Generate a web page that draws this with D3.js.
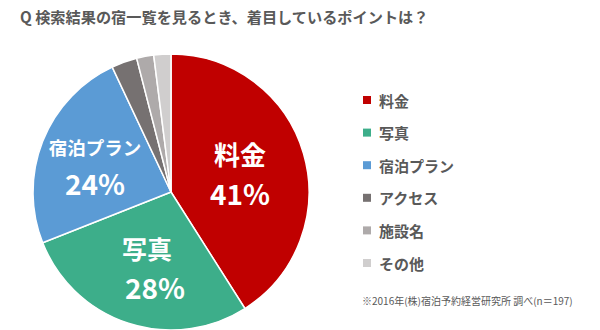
<!DOCTYPE html>
<html><head><meta charset="utf-8">
<script src="https://cdn.jsdelivr.net/npm/d3@7"></script>
<style>
html,body{margin:0;padding:0;background:#fff;}
svg{display:block;font-family:"Noto Sans CJK JP","Noto Sans",sans-serif;}
</style></head>
<body>
<svg id="chart" width="600" height="330"></svg>
<script>
const categories = ["料金","写真","宿泊プラン","アクセス","施設名","その他"];
const values = [41, 28, 24, 3, 2, 2];
const colors = ["#C00000","#3DAE8A","#5B9BD5","#767171","#AEAAAA","#D0CECE"];
const title = "Q 検索結果の宿一覧を見るとき、着目しているポイントは？";
const note = "※2016年(株)宿泊予約経営研究所 調べ(n＝197)";

const svg = d3.select("#chart");
const data = categories.map((c,i)=>({name:c, value:values[i], color:colors[i]}));

svg.append("text").attr("x",20).attr("y",23)
  .attr("font-size",15.2).attr("font-weight","bold").attr("fill","#595959")
  .text(title);

const cx = 171, cy = 192, r = 138;
const pie = d3.pie().value(d=>d.value).sort(null);
const arc = d3.arc().innerRadius(0).outerRadius(r);
const arcs = pie(data);
const g = svg.append("g").attr("transform",`translate(${cx},${cy})`);
g.selectAll("path").data(arcs).join("path")
  .attr("d",arc).attr("fill",d=>d.data.color)
  .attr("stroke","#fff").attr("stroke-width",1.5);

// in-slice labels
const labelPos = [
  {name:[240,153], pct:[240,193], ns:26},
  {name:[147,248], pct:[155,287], ns:25},
  {name:[95,147], pct:[95,183], ns:18.5}
];
labelPos.forEach((p,i)=>{
  svg.append("text").attr("x",p.name[0]).attr("y",p.name[1])
    .attr("text-anchor","middle").attr("dominant-baseline","central")
    .attr("font-size",p.ns).attr("font-weight","bold").attr("fill","#fff")
    .text(data[i].name);
  svg.append("text").attr("x",p.pct[0]).attr("y",p.pct[1])
    .attr("text-anchor","middle").attr("dominant-baseline","central")
    .attr("font-size",28).attr("font-weight","bold").attr("fill","#fff")
    .text(data[i].value + "%");
});

// legend
const ly = d3.scalePoint().domain(categories).range([100,263]);
const lg = svg.append("g");
data.forEach(d=>{
  lg.append("rect").attr("x",363).attr("y",ly(d.name)-4).attr("width",8).attr("height",8).attr("fill",d.color);
  lg.append("text").attr("x",379).attr("y",ly(d.name)).attr("dominant-baseline","central")
    .attr("font-size",15).attr("font-weight","bold").attr("fill","#595959").text(d.name);
});

svg.append("text").attr("x",362).attr("y",300).attr("dominant-baseline","central")
  .attr("font-size",10).attr("fill","#595959").text(note);
</script>
</body></html>
